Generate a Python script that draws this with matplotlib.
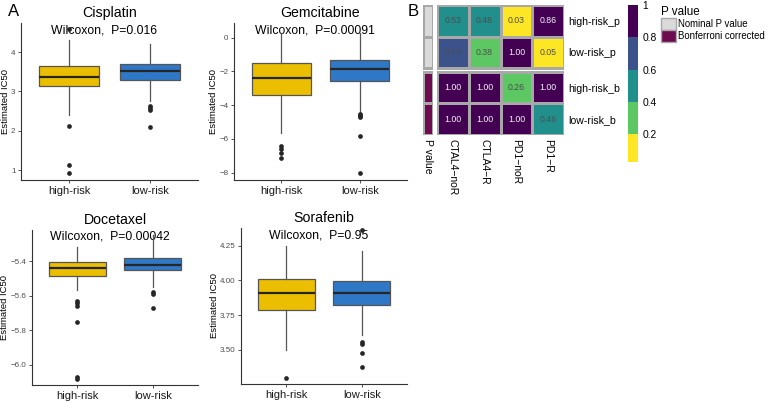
import matplotlib
matplotlib.use('Agg')
import matplotlib.pyplot as plt
from matplotlib.colors import ListedColormap, BoundaryNorm
from matplotlib.cm import ScalarMappable
from matplotlib.patches import Patch

plt.rcParams['font.family'] = ['Liberation Sans', 'DejaVu Sans']

# ---- panel A: box statistics, one [high-risk, low-risk] pair per drug ----
groups = ['high-risk', 'low-risk']
drugs = ['Cisplatin', 'Gemcitabine', 'Docetaxel', 'Sorafenib']
p_texts = ['Wilcoxon,  P=0.016', 'Wilcoxon,  P=0.00091',
           'Wilcoxon,  P=0.00042', 'Wilcoxon,  P=0.95']

whis_lo = [[2.39, 2.77], [-5.66, -4.40], [-5.57, -5.55], [3.50, 3.61]]
q1 = [[3.13, 3.28], [-3.42, -2.57], [-5.487, -5.45], [3.79, 3.82]]
median = [[3.36, 3.52], [-2.37, -1.88], [-5.44, -5.42], [3.91, 3.91]]
q3 = [[3.64, 3.71], [-1.51, -1.31], [-5.404, -5.38], [4.01, 3.995]]
whis_hi = [[4.32, 4.20], [0.26, 0.26], [-5.32, -5.25], [4.25, 4.21]]
fliers = [
    [[4.58, 2.13, 1.12, 0.93], [2.62, 2.57, 2.52, 2.09]],
    [[-6.40, -6.60, -6.85, -7.15], [-4.50, -4.58, -4.65, -4.72, -5.80, -8.00]],
    [[-5.63, -5.645, -5.66, -5.75, -6.07, -6.08], [-5.58, -5.59, -5.67]],
    [[3.30], [4.36, 3.555, 3.54, 3.48, 3.38]],
]

y_limits = [(0.75, 4.74), (-8.43, 0.87), (-6.117, -5.22), (3.255, 4.377)]
y_ticks = [[1, 2, 3, 4], [-8, -6, -4, -2, 0],
           [-6.0, -5.8, -5.6, -5.4], [3.50, 3.75, 4.00, 4.25]]
y_fmt = ['{:.0f}', '{:.0f}', '{:.1f}', '{:.2f}']

# ---- panel B: heatmap ----
heat_rows = ['high-risk_p', 'low-risk_p', 'high-risk_b', 'low-risk_b']
heat_cols = ['CTAL4\u2212noR', 'CTLA4\u2212R', 'PD1\u2212noR', 'PD1\u2212R']
heat_values = [[0.53, 0.48, 0.03, 0.86],
               [0.76, 0.38, 1.00, 0.05],
               [1.00, 1.00, 0.26, 1.00],
               [1.00, 1.00, 1.00, 0.46]]
ann_labels = ['Nominal P value', 'Bonferroni corrected']
ann_rows = [0, 0, 1, 1]

box_colors = ['#EBBF00', '#2E78C7']
viridis5 = ['#FDE725', '#5DC863', '#21908C', '#3B528B', '#440154']
ann_colors = ['#DADADA', '#6E0A50']
grid_grey = '#A8A8A8'

W, H = 771, 401
fig = plt.figure(figsize=(W / 100, H / 100), dpi=100)


def px_axes(x0, y0, x1, y1):
    return fig.add_axes([x0 / W, 1 - y1 / H, (x1 - x0) / W, (y1 - y0) / H])


box_axes = [(21, 23, 198, 180), (234, 23, 407, 180),
            (32, 230, 198, 385), (241, 228, 407, 384)]

for i, drug in enumerate(drugs):
    ax = px_axes(*box_axes[i])
    stats = []
    for g in range(2):
        stats.append(dict(med=median[i][g], q1=q1[i][g], q3=q3[i][g],
                          whislo=whis_lo[i][g], whishi=whis_hi[i][g],
                          fliers=fliers[i][g], label=groups[g]))
    bp = ax.bxp(stats, positions=[1, 2], widths=0.75, patch_artist=True,
                showcaps=False,
                boxprops=dict(edgecolor='#555555', linewidth=0.9),
                medianprops=dict(color='#262626', linewidth=1.6),
                whiskerprops=dict(color='#555555', linewidth=0.9),
                flierprops=dict(marker='o', markerfacecolor='#262626',
                                markeredgecolor='none', markersize=3.4))
    for patch, c in zip(bp['boxes'], box_colors):
        patch.set_facecolor(c)

    ax.set_xlim(0.4, 2.6)
    ax.set_ylim(*y_limits[i])
    ax.set_yticks(y_ticks[i])
    ax.set_yticklabels([y_fmt[i].format(v).replace('-', '\u2212') for v in y_ticks[i]])
    for s in ['top', 'right']:
        ax.spines[s].set_visible(False)
    for s in ['left', 'bottom']:
        ax.spines[s].set_color('#333333')
        ax.spines[s].set_linewidth(0.8)
    ax.tick_params(axis='y', length=2.5, width=0.6, color='#333333',
                   labelsize=5.8, labelcolor='#4D4D4D', pad=1.5)
    ax.tick_params(axis='x', length=2.5, width=0.6, color='#333333',
                   labelsize=8, labelcolor='#1A1A1A', pad=1.5)
    ax.set_ylabel('Estimated IC50', fontsize=6.8, labelpad=0.8)
    ax.set_title(drug, fontsize=10.2, pad=4)
    ax.text(1.43, 0.955, p_texts[i], transform=ax.get_xaxis_transform(),
            ha='center', va='center', fontsize=8.8, zorder=1)

fig.text(8 / W, 1 - 12 / H, 'A', fontsize=12, ha='left', va='center')
fig.text(408 / W, 1 - 12 / H, 'B', fontsize=12, ha='left', va='center')

# heatmap
cmap = ListedColormap(viridis5)
bounds = [0.03, 0.2, 0.4, 0.6, 0.8, 1.0]
norm = BoundaryNorm(bounds, cmap.N)

hax = px_axes(437, 5, 564, 135)
aax = px_axes(423, 5, 433, 135)
row_edges = [[0, 1, 2], [2.125, 3.125, 4.125]]
col_edges = [0, 1, 2, 3, 4]
for k in range(2):
    block = heat_values[2 * k:2 * k + 2]
    hax.pcolormesh(col_edges, row_edges[k], block, cmap=cmap, norm=norm,
                   edgecolors=grid_grey, linewidth=1)
    aax.pcolormesh([0, 1], row_edges[k], [[ann_rows[2 * k]], [ann_rows[2 * k + 1]]],
                   cmap=ListedColormap(ann_colors), vmin=0, vmax=1,
                   edgecolors=grid_grey, linewidth=1)

row_centers = [0.5, 1.5, 2.625, 3.625]
for r, row in enumerate(heat_values):
    for c, v in enumerate(row):
        tc = '#F2F2F2' if v >= 0.8 else '#4D4D4D'
        hax.text(c + 0.5, row_centers[r], f'{v:.2f}', ha='center', va='center',
                 fontsize=6.3, color=tc)

for a in (hax, aax):
    a.set_ylim(4.125, 0)
    for s in a.spines.values():
        s.set_visible(False)
    a.tick_params(length=0)

hax.set_xlim(0, 4)
hax.set_xticks([0.5, 1.5, 2.5, 3.5])
hax.set_xticklabels(heat_cols, rotation=270, fontsize=7.5)
hax.yaxis.tick_right()
hax.set_yticks(row_centers)
hax.set_yticklabels(heat_rows, fontsize=7.6)
hax.tick_params(pad=3)

aax.set_xlim(0, 1)
aax.set_yticks([])
aax.set_xticks([0.5])
aax.set_xticklabels(['P value'], rotation=270, fontsize=7.5)
aax.tick_params(pad=3)

# colorbar
cax = px_axes(628, 5, 638, 162)
cb = fig.colorbar(ScalarMappable(norm=norm, cmap=cmap), cax=cax,
                  boundaries=bounds, spacing='proportional')
cb.outline.set_visible(False)
cb.set_ticks([0.2, 0.4, 0.6, 0.8, 1.0])
cb.set_ticklabels(['0.2', '0.4', '0.6', '0.8', '1'])
cax.minorticks_off()
cax.tick_params(which='both', length=0, labelsize=7.4, pad=3)

# annotation legend
handles = [Patch(facecolor=ann_colors[0], edgecolor=grid_grey),
           Patch(facecolor=ann_colors[1], edgecolor=grid_grey)]
fig.legend(handles, ann_labels, title='P value', loc='upper left',
           bbox_to_anchor=(654 / W, 1 + 1 / H), frameon=False, fontsize=6.9,
           title_fontsize=8.4, handlelength=1.6, handleheight=1.6,
           handletextpad=0.25, labelspacing=0.0, borderpad=0.2,
           alignment='left')

fig.savefig('out.png', dpi=100)
